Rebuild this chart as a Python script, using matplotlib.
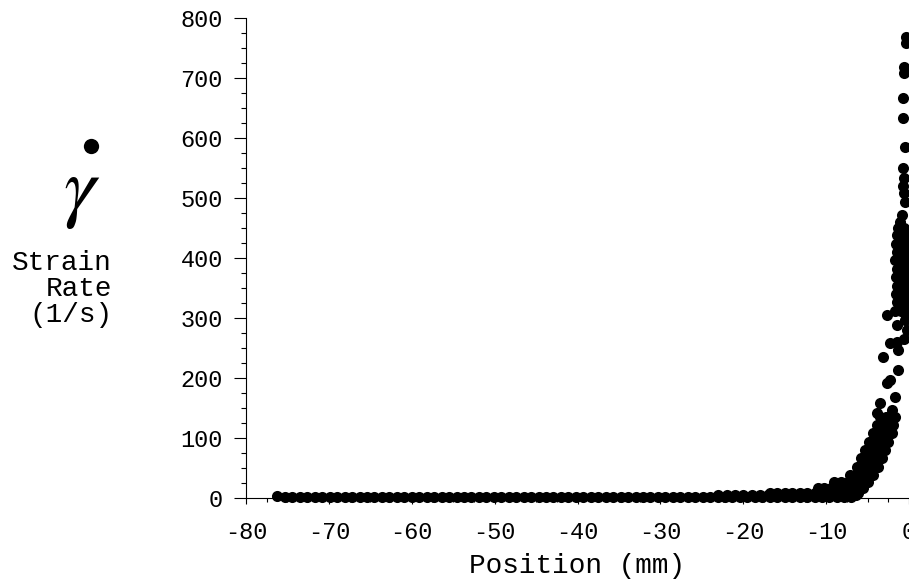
import matplotlib
matplotlib.use('Agg')
import matplotlib.pyplot as plt
from matplotlib.lines import Line2D
from matplotlib.ticker import MultipleLocator

# baseline: strain rate ~0 over most of the traverse
base_pos = [-76.2, -75.3, -74.4, -73.5, -72.6, -71.7, -70.8, -69.9, -69.0, -68.1,
            -67.2, -66.3, -65.4, -64.5, -63.6, -62.7, -61.8, -60.9, -60.0, -59.1,
            -58.2, -57.3, -56.4, -55.5, -54.6, -53.7, -52.8, -51.9, -51.0, -50.1,
            -49.2, -48.3, -47.4, -46.5, -45.6, -44.7, -43.8, -42.9, -42.0, -41.1,
            -40.2, -39.3, -38.4, -37.5, -36.6, -35.7, -34.8, -33.9, -33.0, -32.1,
            -31.2, -30.3, -29.4, -28.5, -27.6, -26.7, -25.8, -24.9, -24.0, -23.1,
            -22.2, -21.3, -20.4, -19.5, -18.6, -17.7, -16.8, -15.9, -15.0, -14.1,
            -13.2, -12.3, -11.4, -10.5, -9.6, -8.7, -7.8, -7.0]
base_rate = [3, 1, 1, 1, 1, 1, 1, 1, 1, 1,
             1, 1, 1, 1, 1, 1, 1, 1, 1, 1,
             1, 1, 1, 1, 1, 1, 1, 1, 1, 1,
             1, 1, 1, 1, 1, 1, 1, 1, 1, 1,
             1, 1, 1, 1, 1, 1, 1, 1, 1, 1,
             1, 1, 1, 1, 1, 1, 1, 1, 1, 1,
             1, 1, 1, 1, 1, 1, 1, 1, 1, 1,
             1, 1, 1, 1, 1, 1, 1, 1]

# the fan of points rising near the wall
ramp_pos = [-23.0, -22.0, -21.0, -20.0, -19.0, -18.0, -17.0, -16.0, -15.0, -14.0,
            -13.0, -12.0, -11.0, -10.0, -9.0, -8.0, -7.0, -6.4,
            -16.8, -15.9, -15.0, -14.1, -13.2, -12.3, -11.4, -10.5, -9.6, -8.7,
            -7.8, -6.9, -6.1,
            -11.0, -10.2, -9.4, -8.6, -7.8, -7.0, -6.2, -5.5,
            -9.0, -8.2, -7.4, -6.6, -5.8, -5.0,
            -7.1, -6.4, -5.7, -5.0, -4.3,
            -6.3, -5.6, -4.9, -4.3, -3.7,
            -5.8, -5.1, -4.4, -3.8, -3.3,
            -5.3, -4.6, -3.9, -3.3, -2.9,
            -4.8, -4.1, -3.5, -3.0, -2.5,
            -4.3, -3.6, -3.0, -2.5, -2.05,
            -3.9, -3.2, -2.6, -1.9,
            -3.5, -2.8, -2.2, -1.7]
ramp_rate = [5, 5, 5, 5, 5, 5, 5, 5, 5, 5,
             5, 5, 5, 5, 5, 5, 5, 5,
             9, 9, 9, 9, 9, 9, 9, 9, 9, 9,
             9, 9, 9,
             17, 17, 17, 17, 17, 17, 17, 17,
             26, 26, 26, 26, 26, 26,
             38, 38, 38, 38, 38,
             52, 52, 52, 52, 52,
             66, 66, 66, 66, 66,
             80, 80, 80, 80, 80,
             94, 94, 94, 94, 94,
             108, 108, 108, 108, 108,
             121, 121, 121, 121,
             135, 135, 135, 135]

# dense column right at the wall
wall_pos = [-1.7, -1.0, -0.3, -1.5, -0.8, -0.2, -1.6, -0.9, -0.3, -1.4, -0.8, -0.2,
            -1.6, -0.9, -0.3, -1.5, -0.8, -0.2, -1.7, -1.0, -0.3, -1.5, -0.8, -0.2,
            -1.6, -0.9, -0.3, -1.5, -0.8, -0.2, -1.3, -0.6]
wall_rate = [312, 312, 312, 326, 326, 326, 340, 340, 340, 354, 354, 354,
             368, 368, 368, 382, 382, 382, 396, 396, 396, 410, 410, 410,
             424, 424, 424, 438, 438, 438, 450, 450]

# scattered points
peak_pos = [-3.86, -2.05, -3.5, -1.7, -2.65, -2.3, -1.33, -3.14, -1.33, -2.3,
            -1.45, -2.65, -1.45, -0.5, -0.4, -0.3, -0.6,
            -1.1, -0.8, -0.5, -0.6, -0.7, -0.6, -0.7, -0.5, -0.7, -0.7,
            -0.6, -0.6, -0.4, -0.35]
peak_rate = [142, 147, 158, 168, 192, 197, 213, 235, 247, 258,
             288, 305, 260, 297, 300, 280, 265,
             460, 472, 493, 508, 520, 533, 550, 585, 633, 667,
             708, 718, 758, 768]

plt.rcParams['axes.unicode_minus'] = False
W, H = 909, 588
fig = plt.figure(figsize=(W / 100, H / 100), dpi=100)
ax = fig.add_axes([246 / W, 1 - 498 / H, 663 / W, 480 / H])

for xs, ys in [(base_pos, base_rate), (ramp_pos, ramp_rate),
               (wall_pos, wall_rate), (peak_pos, peak_rate)]:
    ax.plot(xs, ys, 'o', color='black', ms=8, mew=0, clip_on=False, zorder=3)

ax.set_xlim(-80, 0)
ax.set_ylim(0, 800)
for s in ['top', 'right']:
    ax.spines[s].set_visible(False)
for s in ['left', 'bottom']:
    ax.spines[s].set_linewidth(0.8)

ax.xaxis.set_major_locator(MultipleLocator(10))
ax.xaxis.set_minor_locator(MultipleLocator(2.5))
ax.yaxis.set_major_locator(MultipleLocator(100))
ax.yaxis.set_minor_locator(MultipleLocator(25))

tfont = 'Liberation Mono'
ax.tick_params(axis='y', which='major', direction='out', length=8.6, width=0.8, pad=8)
ax.tick_params(axis='y', which='minor', direction='out', length=3.6, width=0.8)
ax.tick_params(axis='x', which='major', direction='out', length=4.3, width=0.8, pad=12)
ax.tick_params(axis='x', which='minor', direction='out', length=2.9, width=0.8)
for lab in ax.get_xticklabels() + ax.get_yticklabels():
    lab.set_fontfamily(tfont)
    lab.set_fontsize(17)

ax.set_xlabel('Position (mm)', fontfamily=tfont, fontsize=20, labelpad=7)


def px(x, y):
    return x / W, 1 - y / H


# y label: strain-rate symbol and words
fig.text(*px(82, 192), r'$\gamma$', math_fontfamily='stix',
         fontsize=58, ha='center', va='center')
fig.add_artist(Line2D([px(91, 146)[0]], [px(91, 146)[1]], marker='o', ms=11,
                      color='black', mew=0, transform=fig.transFigure))
fig.text(*px(112, 250), 'Strain\nRate\n(1/s)', family=tfont, fontsize=20,
         ha='right', va='top', multialignment='right', linespacing=1.0)

fig.savefig('out.png', dpi=100)
